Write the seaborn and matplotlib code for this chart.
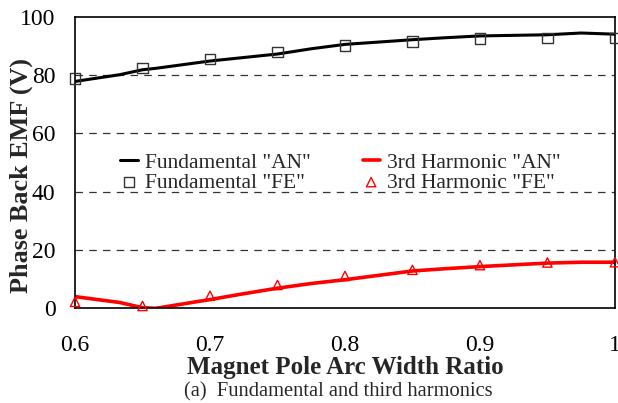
import numpy as np
import pandas as pd
import matplotlib
matplotlib.use("Agg")
import matplotlib.pyplot as plt
import seaborn as sns

# Analytical curves (solid lines)
ratio_an = [0.60, 0.633, 0.65, 0.66, 0.70, 0.725, 0.75, 0.775, 0.80, 0.825,
            0.85, 0.875, 0.90, 0.925, 0.95, 0.975, 1.00]
fund_an = [77.8, 80.1, 81.8, 82.3, 84.8, 86.0, 87.2, 89.0, 90.5, 91.3,
           92.1, 92.8, 93.4, 93.6, 93.8, 94.4, 94.0]
third_an = [4.0, 2.0, 0.2, 0.0, 3.0, 5.0, 6.9, 8.5, 9.8, 11.3,
            12.8, 13.6, 14.3, 14.9, 15.5, 15.8, 15.8]

# Finite element points (markers)
ratio_fe = [0.60, 0.65, 0.70, 0.75, 0.80, 0.85, 0.90, 0.95, 1.00]
fund_fe = [78.8, 82.4, 85.5, 87.9, 90.2, 91.6, 92.5, 92.7, 92.7]
third_fe = [2.2, 0.8, 4.3, 8.0, 11.1, 13.2, 14.8, 15.7, 15.8]

xticks = [0.6, 0.7, 0.8, 0.9, 1.0]
xticklabels = ["0.6", "0.7", "0.8", "0.9", "1"]
yticks = [0, 20, 40, 60, 80, 100]

sns.set_style("white")
plt.rcParams["font.family"] = ["Liberation Serif", "DejaVu Serif"]

fig = plt.figure(figsize=(6.18, 4.03), dpi=100)
ax = fig.add_axes([0.1214, 0.235, 0.8736, 0.7236])

sns.lineplot(x=ratio_an, y=fund_an, ax=ax, color="black", linewidth=2.2,
             label='Fundamental "AN"', sort=False)
sns.lineplot(x=ratio_an, y=third_an, ax=ax, color="#ff0000", linewidth=2.6,
             label='3rd Harmonic "AN"', sort=False)
sns.scatterplot(x=ratio_fe, y=fund_fe, ax=ax, marker="s", s=60,
                facecolor="none", edgecolor="#333333", linewidth=1.0,
                label='Fundamental "FE"', clip_on=False, zorder=5)
sns.scatterplot(x=ratio_fe, y=third_fe, ax=ax, marker="^", s=45,
                facecolor="none", edgecolor="#ff0000", linewidth=1.0,
                label='3rd Harmonic "FE"', clip_on=False, zorder=5)

ax.set_xlim(0.6, 1.0)
ax.set_ylim(0, 100)
ax.set_xticks(xticks)
ax.set_xticklabels(xticklabels)
ax.set_yticks(yticks)
ax.tick_params(axis="x", direction="in", length=7, width=1, pad=19,
               labelsize=17, colors="black")
ax.tick_params(axis="y", direction="in", length=5, width=1, pad=14,
               labelsize=17, colors="black")

for y in [20, 40, 60, 80]:
    ax.axhline(y, color="#333333", linewidth=0.9, linestyle=(0, (6, 5)), zorder=0)

for s in ax.spines.values():
    s.set_visible(True)
    s.set_color("black")
    s.set_linewidth(1.2)

ax.set_xlabel("Magnet Pole Arc Width Ratio", fontsize=18, fontweight="bold",
              labelpad=0)
ax.set_ylabel("Phase Back EMF (V)", fontsize=18.8, fontweight="bold")
ax.yaxis.set_label_coords(-0.078, 0.457)

handles, labels = ax.get_legend_handles_labels()
order = [0, 2, 1, 3]
ax.legend([handles[i] for i in order], [labels[i] for i in order], ncol=2,
          frameon=False, fontsize=15.5, loc="center left",
          bbox_to_anchor=(0.064, 0.465), labelspacing=0.0, handlelength=0.8,
          handletextpad=0.35, columnspacing=2.4, borderpad=0.0)

fig.text(0.547, 0.028, "(a)  Fundamental and third harmonics", ha="center",
         va="center", fontsize=14.8)

fig.savefig("out.png", dpi=100)
